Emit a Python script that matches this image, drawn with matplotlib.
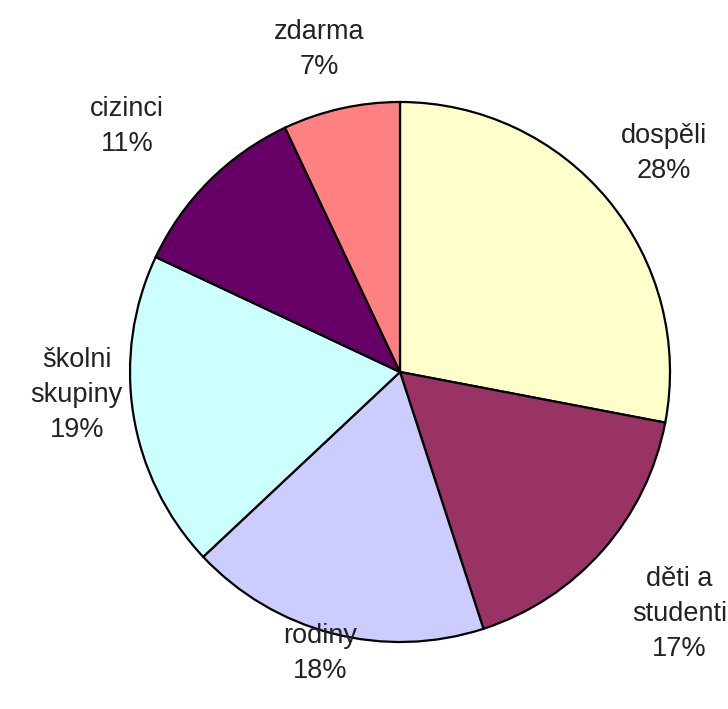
import matplotlib.pyplot as plt
import numpy as np

plt.rcParams['font.family'] = ['Liberation Sans', 'DejaVu Sans']

# data (percent)
labels = ['dospěli', 'děti a\nstudenti', 'rodiny', 'školni\nskupiny', 'cizinci', 'zdarma']
values = [28, 17, 18, 19, 11, 7]
colors = ['#FFFFCC', '#993366', '#CCCCFF', '#CCFFFF', '#660066', '#FF8080']

# how far out each label sits (in pie radii), as Excel placed them
label_dist = [1.27, 1.37, 1.085, 1.2, 1.36, 1.23]
label_angle_shift = [0, 0.5, -1.5, -5, 3, 1.5]

fig = plt.figure(figsize=(7.28, 7.09), dpi=100)
ax = fig.add_axes([130 / 728, 67 / 709, 540 / 728, 540 / 709])

wedges, _ = ax.pie(values, colors=colors, startangle=90, counterclock=False,
                   wedgeprops=dict(edgecolor='black', linewidth=1.6))

for w, lab, v, d, s in zip(wedges, labels, values, label_dist, label_angle_shift):
    ang = np.deg2rad((w.theta1 + w.theta2) / 2 + s)
    ax.text(d * np.cos(ang), d * np.sin(ang), f'{lab}\n{v}%',
            ha='center', va='center', fontsize=19.5, color='#222222',
            linespacing=1.45)

ax.set_xlim(-1, 1)
ax.set_ylim(-1, 1)
ax.axis('off')

fig.savefig('out.png', dpi=100)
